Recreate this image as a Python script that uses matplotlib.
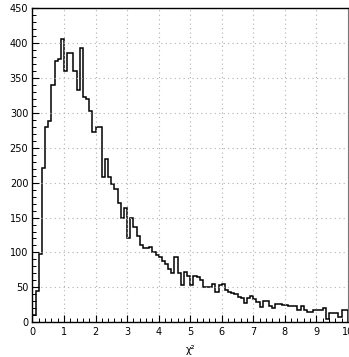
import matplotlib
matplotlib.use('Agg')
import numpy as np
import matplotlib.pyplot as plt
from matplotlib.ticker import MultipleLocator

# histogram of chi^2, 100 bins between 0 and 10
x_low, x_high, n_bins = 0.0, 10.0, 100
counts = [
    10, 45, 98, 221, 280, 288, 340, 374, 377, 405,
    359, 385, 385, 360, 333, 392, 322, 319, 303, 272,
    280, 280, 208, 234, 208, 198, 191, 171, 149, 163,
    121, 149, 137, 123, 110, 106, 106, 108, 100, 97,
    93, 88, 84, 77, 70, 93, 70, 54, 72, 66,
    53, 67, 65, 60, 50, 50, 51, 55, 44, 54,
    55, 47, 44, 42, 40, 37, 35, 27, 35, 38,
    33, 29, 22, 30, 30, 23, 21, 26, 26, 25,
    25, 24, 24, 24, 18, 23, 18, 15, 15, 17,
    18, 18, 20, 5, 13, 13, 14, 8, 18, 18,
]
x_ticks = [0, 1, 2, 3, 4, 5, 6, 7, 8, 9, 10]
y_ticks = [0, 50, 100, 150, 200, 250, 300, 350, 400, 450]


def main():
    edges = np.linspace(x_low, x_high, n_bins + 1)
    fig = plt.figure(figsize=(3.49, 3.57), dpi=100)
    ax = fig.add_axes([0.093, 0.097, 0.904, 0.881])
    ax.stairs(counts, edges, color='black', linewidth=1.1)
    ax.set_xlim(x_low, x_high)
    ax.set_ylim(0, 450)
    ax.set_xticks(x_ticks)
    ax.set_yticks(y_ticks)
    ax.xaxis.set_minor_locator(MultipleLocator(0.2))
    ax.yaxis.set_minor_locator(MultipleLocator(10))
    ax.tick_params(which='both', direction='in', top=False, right=False, labelsize=7, pad=3)
    ax.tick_params(which='major', length=5, width=0.8)
    ax.tick_params(which='minor', length=3, width=0.7)
    ax.grid(True, which='major', linestyle=(0, (1, 3)), color='#b0b0b0', linewidth=0.8)
    for side in ['left', 'bottom', 'top']:
        ax.spines[side].set_linewidth(1.0)
    ax.spines['right'].set_color('#777777')
    ax.spines['right'].set_linewidth(0.8)
    ax.set_xlabel('χ²', fontsize=7, labelpad=6)
    fig.savefig('out.png', dpi=100)
    plt.close(fig)


if __name__ == '__main__':
    main()
